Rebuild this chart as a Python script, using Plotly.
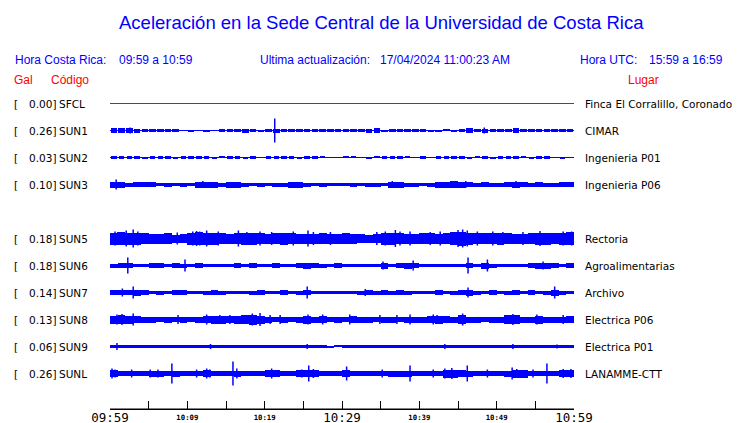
import plotly.graph_objects as go

# ---------------- data ----------------
title = "Aceleración en la Sede Central de la Universidad de Costa Rica"
hora_cr = "09:59 a 10:59"
actualizacion = "17/04/2024 11:00:23 AM"
hora_utc = "15:59 a 16:59"

codes = ["SFCL", "SUN1", "SUN2", "SUN3", "SUN4", "SUN5", "SUN6", "SUN7", "SUN8", "SUN9", "SUNL"]
gal = [0.00, 0.26, 0.03, 0.10, None, 0.18, 0.18, 0.14, 0.13, 0.06, 0.26]
places = ["Finca El Corralillo, Coronado", "CIMAR", "Ingenieria P01", "Ingenieria P06", None,
          "Rectoria", "Agroalimentarias", "Archivo", "Electrica P06", "Electrica P01", "LANAMME-CTT"]

tick_minutes = [0, 5, 10, 15, 20, 25, 30, 35, 40, 45, 50, 55, 60]
tick_labels = ["09:59", "", "10:09", "", "10:19", "", "10:29", "", "10:39", "", "10:49", "", "10:59"]
major_labels = ["09:59", "10:29", "10:59"]

# envelope half-heights (pixels) per 1-minute bin
env_sfcl = [0.0]
env_sun1 = [2.2, 2.2, 2.2, 2.0, 1.2, 1.5, 1.8, 1.8, 1.8, 0.5,
            1.0, 0.5, 1.0, 0.5, 1.2, 1.8, 1.8, 2.0, 1.8, 1.0,
            1.8, 2.0, 1.8, 1.8, 1.8, 1.8, 1.8, 1.8, 1.8, 1.5,
            1.8, 1.8, 1.8, 2.0, 2.2, 1.0, 1.8, 1.8, 1.8, 1.8,
            1.8, 1.0, 1.0, 0.8, 1.0, 1.8, 2.2, 1.2, 2.0, 1.8,
            1.8, 1.8, 2.2, 1.2, 1.8, 1.8, 1.8, 1.8, 1.8, 1.8]
env_sun2 = [1.5, 1.5, 1.3, 1.3, 1.0, 1.2, 1.5, 1.5, 1.0, 1.2,
            1.5, 1.2, 1.2, 1.0, 0.8, 1.2, 1.5, 1.0, 1.2, 0.5,
            1.3, 1.3, 1.2, 1.3, 1.0, 1.3, 1.3, 0.8, 0.5, 0.5,
            0.8, 0.8, 0.5, 1.0, 0.8, 1.3, 1.3, 1.2, 0.8, 0.5,
            1.2, 0.5, 1.3, 1.3, 1.3, 1.3, 1.0, 0.8, 1.2, 1.0,
            1.2, 1.3, 1.3, 0.8, 1.0, 1.2, 1.2, 0.5, 1.0, 0.5]
env_sun3 = [3.0, 3.0, 2.0, 2.5, 2.5, 2.5, 1.8, 2.0, 1.8, 2.0,
            1.8, 3.0, 3.0, 3.0, 2.0, 3.0, 3.0, 2.0, 1.8, 2.0,
            1.8, 2.0, 2.0, 3.0, 3.0, 2.0, 1.8, 2.0, 1.8, 1.8,
            1.8, 2.0, 1.8, 2.0, 2.0, 1.8, 3.0, 3.0, 2.0, 2.0,
            1.8, 2.0, 3.0, 3.0, 3.2, 3.0, 2.5, 2.0, 2.2, 2.0,
            2.0, 2.2, 3.0, 2.8, 2.0, 2.2, 2.0, 2.0, 2.2, 2.2]
env_sun5 = [6.0, 6.5, 6.0, 6.0, 5.5, 5.0, 5.0, 5.5, 4.0, 4.5,
            6.0, 6.5, 6.0, 6.0, 5.5, 5.0, 5.5, 6.0, 6.0, 5.5,
            5.0, 5.5, 6.0, 5.5, 5.0, 5.0, 5.0, 5.5, 5.0, 5.0,
            5.5, 5.0, 4.5, 4.0, 4.5, 6.0, 6.0, 5.5, 5.0, 5.0,
            5.5, 5.5, 5.0, 5.5, 6.5, 7.0, 6.0, 5.5, 5.5, 5.5,
            6.0, 5.5, 5.0, 5.0, 5.5, 6.0, 6.0, 5.5, 6.0, 6.5]
env_sun6 = [2.0, 2.5, 2.5, 1.8, 1.8, 2.5, 2.2, 1.8, 2.5, 2.0,
            1.8, 2.5, 1.8, 1.8, 1.8, 1.8, 2.5, 1.8, 2.5, 1.8,
            1.8, 2.5, 1.8, 1.8, 2.5, 3.0, 2.5, 2.0, 1.8, 2.5,
            1.8, 1.8, 1.8, 1.8, 1.8, 3.0, 1.8, 2.5, 3.0, 2.5,
            1.8, 1.8, 1.8, 1.8, 1.8, 1.8, 2.5, 1.8, 3.0, 2.0,
            1.8, 1.8, 1.8, 1.8, 2.5, 3.0, 3.0, 2.5, 1.8, 2.5]
env_sun7 = [2.2, 2.8, 2.2, 3.0, 2.5, 1.8, 2.0, 1.8, 2.5, 2.5,
            1.8, 1.8, 2.0, 2.5, 2.0, 1.8, 1.8, 1.8, 2.0, 2.5,
            1.8, 1.8, 2.5, 1.8, 2.0, 2.8, 1.8, 1.8, 1.8, 1.8,
            1.8, 1.8, 2.0, 2.5, 2.0, 2.5, 2.0, 2.5, 2.0, 1.8,
            1.8, 1.8, 2.5, 1.8, 2.0, 2.2, 3.0, 2.0, 1.8, 2.5,
            1.8, 2.0, 2.5, 1.8, 2.5, 1.8, 2.0, 3.0, 2.0, 1.8]
env_sun8 = [4.0, 4.5, 4.0, 3.5, 3.0, 3.0, 2.8, 3.0, 2.8, 3.0,
            2.8, 3.0, 3.5, 4.0, 4.0, 3.5, 4.0, 4.5, 5.0, 4.0,
            3.0, 2.8, 3.0, 2.8, 3.0, 4.0, 3.0, 3.5, 2.8, 3.0,
            2.8, 3.5, 3.0, 3.0, 2.8, 3.0, 3.0, 2.8, 3.0, 3.0,
            3.0, 3.5, 4.0, 3.5, 3.0, 4.5, 3.0, 3.0, 2.8, 3.0,
            3.0, 4.5, 4.5, 3.0, 3.0, 4.0, 3.0, 3.0, 3.0, 3.5]
env_sun9 = [1.8, 1.5, 1.5, 1.5, 1.5, 1.5, 1.5, 1.5, 1.5, 1.5,
            1.5, 1.5, 1.5, 1.8, 1.5, 1.5, 1.5, 1.5, 1.5, 1.5,
            1.5, 1.5, 1.5, 1.5, 1.5, 1.8, 1.5, 1.5, 1.0, 0.8,
            1.5, 1.5, 1.5, 1.5, 1.5, 1.5, 1.5, 1.5, 1.5, 1.5,
            1.5, 1.5, 1.5, 1.8, 1.5, 1.8, 1.5, 1.5, 1.5, 1.5,
            1.5, 1.5, 1.8, 1.5, 1.5, 1.5, 1.5, 1.8, 1.5, 1.5]
env_sunl = [3.5, 2.8, 2.5, 2.2, 2.5, 3.0, 3.0, 2.5, 3.0, 2.5,
            2.2, 2.5, 3.5, 2.5, 2.2, 2.5, 3.0, 2.5, 2.2, 2.5,
            3.5, 3.5, 2.5, 2.2, 3.5, 3.5, 3.5, 2.5, 2.2, 2.5,
            3.5, 2.5, 2.2, 2.5, 2.5, 2.5, 3.0, 3.0, 3.0, 2.5,
            2.5, 2.5, 2.2, 4.0, 4.0, 3.5, 3.0, 2.5, 2.5, 2.2,
            2.5, 3.0, 4.0, 4.0, 2.5, 2.2, 2.5, 2.5, 3.5, 3.5]

# isolated peaks: minute, half-height (pixels)
spk_t_sun1 = [2.6, 21.3, 48.4]
spk_a_sun1 = [3, 12, 3]
spk_t_sun2 = []
spk_a_sun2 = []
spk_t_sun3 = [0.8, 12.0, 36.5, 46.0, 52.5]
spk_a_sun3 = [5, 3.5, 3.5, 3.5, 3.5]
spk_t_sun5 = [0.65, 1.0, 2.1, 3.0, 3.6, 8.7, 10.7, 11.2, 11.6, 12.5, 14.0, 16.6, 17.7, 19.4,
              20.9, 23.7, 25.6, 26.3, 28.5, 34.5, 35.6, 36.9, 37.5, 38.8, 41.4, 42.7, 45.0,
              45.6, 46.2, 47.5, 49.5, 50.8, 53.4, 55.6, 58.6, 59.7]
spk_a_sun5 = [7, 6.5, 8, 9, 7, 6, 7, 7.5, 7, 8, 7, 8, 6.5, 7,
              6.5, 7, 8, 6.5, 6.5, 6.5, 7, 8.5, 7, 7, 6.5, 7, 8.5,
              9, 8, 7, 7, 6.5, 6.5, 7.5, 7, 7]
spk_t_sun6 = [2.3, 9.7, 35.3, 39.2, 46.3, 48.8, 56.0]
spk_a_sun6 = [8, 6, 4, 5, 8, 6, 4]
spk_t_sun7 = [1.6, 3.0, 25.5, 33.0, 46.3, 57.5]
spk_a_sun7 = [4, 6, 6, 3.5, 5, 6]
spk_t_sun8 = [0.9, 1.55, 3.0, 8.8, 12.5, 14.2, 15.5, 18.4, 19.4, 20.7, 22.0, 25.6, 27.5,
              31.0, 34.9, 37.1, 38.8, 41.8, 42.3, 45.6, 52.1, 55.2, 58.6]
spk_a_sun8 = [5, 5.5, 6, 4.5, 5, 4.5, 4.5, 6, 6.5, 4.5, 4.5, 5, 5,
              5, 4.5, 4.5, 5, 5, 4.5, 6, 5.5, 5, 4.5]
spk_t_sun9 = [0.9, 13.0, 25.5, 43.3, 52.1, 57.8]
spk_a_sun9 = [3.5, 2.5, 2.5, 2.5, 2.5, 2]
spk_t_sunl = [0.26, 0.65, 2.8, 5.2, 6.2, 8.0, 11.2, 12.5, 12.9, 15.9, 16.4, 20.9, 24.8, 25.7,
              26.3, 30.6, 35.2, 38.8, 41.8, 43.3, 44.2, 46.2, 48.8, 52.0, 52.6, 54.7, 56.5,
              58.6, 59.6]
spk_a_sunl = [5, 4, 4, 4, 4, 10, 4, 5, 4, 12, 5, 5, 4, 8,
              4.5, 7, 4, 8, 4, 5, 5.5, 8, 4, 6, 4.5, 4, 10,
              4.5, 4.5]

# ---------------- assembly ----------------
envs = {"SFCL": env_sfcl, "SUN1": env_sun1, "SUN2": env_sun2, "SUN3": env_sun3,
        "SUN5": env_sun5, "SUN6": env_sun6, "SUN7": env_sun7, "SUN8": env_sun8,
        "SUN9": env_sun9, "SUNL": env_sunl}
spikes = {"SUN1": (spk_t_sun1, spk_a_sun1), "SUN2": (spk_t_sun2, spk_a_sun2),
          "SUN3": (spk_t_sun3, spk_a_sun3), "SUN5": (spk_t_sun5, spk_a_sun5),
          "SUN6": (spk_t_sun6, spk_a_sun6), "SUN7": (spk_t_sun7, spk_a_sun7),
          "SUN8": (spk_t_sun8, spk_a_sun8), "SUN9": (spk_t_sun9, spk_a_sun9),
          "SUNL": (spk_t_sunl, spk_a_sunl)}

W, H = 740, 423
PAGE = 8  # default page margin around the figure div
# plot area in window pixels
L_WIN, R_WIN, T_WIN, B_WIN = 110, 574.5, 90, 409
L, R, T, B = L_WIN - PAGE, R_WIN - PAGE, T_WIN - PAGE, B_WIN - PAGE
ROW_PX = 27.0
FIRST_ROW_WIN = 103.5
y_top = -(FIRST_ROW_WIN - T_WIN) / ROW_PX
y_bot = (B_WIN - FIRST_ROW_WIN) / ROW_PX
BLUE = "#0000ff"

def xp(px):  # window pixel -> paper x
    return (px - L_WIN) / (R_WIN - L_WIN)

def yp(py):  # window pixel -> paper y
    return (B_WIN - py) / (B_WIN - T_WIN)

t0, t1 = tick_minutes[0], tick_minutes[-1]
fig = go.Figure()
annotations = []
lab_font = dict(family="DejaVu Sans", size=10.5, color="black")

for i, code in enumerate(codes):
    env = envs.get(code)
    if env is None:
        continue
    if code == "SFCL":
        fig.add_trace(go.Scatter(x=[t0, t1], y=[i, i], mode="lines",
                                 line=dict(color="red", width=1), hoverinfo="skip"))
    else:
        fig.add_trace(go.Scatter(x=[t0, t1], y=[i, i], mode="lines",
                                 line=dict(color=BLUE, width=1), hoverinfo="skip"))
        bw = {"SUN1": 0.85, "SUN2": 0.7}.get(code, 1.0)
        fig.add_trace(go.Bar(x=[m + 0.5 for m in range(len(env))],
                             y=[2 * a / ROW_PX for a in env],
                             base=[i - a / ROW_PX for a in env],
                             width=bw, marker=dict(color=BLUE, line=dict(width=0)),
                             hoverinfo="skip"))
        st, sa = spikes[code]
        xs, ys = [], []
        for t, a in zip(st, sa):
            xs += [t, t, None]
            ys += [i - a / ROW_PX, i + a / ROW_PX, None]
        if xs:
            fig.add_trace(go.Scatter(x=xs, y=ys, mode="lines",
                                     line=dict(color=BLUE, width=1.5), hoverinfo="skip"))
    annotations.append(dict(x=xp(12), y=i, xref="paper", yref="y", text="[",
                            xanchor="left", yanchor="middle", showarrow=False, font=lab_font))
    annotations.append(dict(x=xp(58), y=i, xref="paper", yref="y", text=f"{gal[i]:.2f}]",
                            xanchor="right", yanchor="middle", showarrow=False, font=lab_font))
    annotations.append(dict(x=xp(57), y=i, xref="paper", yref="y", text=code,
                            xanchor="left", yanchor="middle", showarrow=False, font=lab_font))
    annotations.append(dict(x=xp(584), y=i, xref="paper", yref="y", text=places[i],
                            xanchor="left", yanchor="middle", showarrow=False, font=lab_font))

hfont = dict(family="Liberation Sans", size=12, color=BLUE)
rfont = dict(family="Liberation Sans", size=12, color="red")
def head(px, py, text, font, anchor="left"):
    annotations.append(dict(x=xp(px), y=yp(py), xref="paper", yref="paper", text=text,
                            xanchor=anchor, yanchor="middle", showarrow=False, font=font))

head(382, 22, title, dict(family="Liberation Sans", size=18.5, color=BLUE), "center")
head(13, 60, "Hora Costa Rica:", hfont)
head(117, 60, hora_cr, hfont)
head(258, 60, "Ultima actualización:", hfont)
head(378, 60, actualizacion, hfont)
head(579, 60, "Hora UTC:", hfont)
head(648, 60, hora_utc, hfont)
head(12, 80, "Gal", rfont)
head(49, 80, "Código", rfont)
head(627, 80, "Lugar", rfont)

ticktext = []
for lab in tick_labels:
    if lab == "" or lab in major_labels:
        ticktext.append(lab)
    else:
        ticktext.append('<span style="font-size:7.3px;font-weight:bold;baseline-shift:2px">'
                        + lab + '</span>')

fig.update_layout(
    width=W, height=H,
    margin=dict(l=L, r=W - R, t=T, b=H - B, pad=0, autoexpand=False),
    paper_bgcolor="white", plot_bgcolor="white",
    showlegend=False, barmode="overlay", bargap=0,
    annotations=annotations,
    shapes=[dict(type="line", xref="x", yref="paper", x0=t0, x1=t1, y0=0, y1=0,
                 line=dict(color="black", width=1))],
    xaxis=dict(range=[t0, t1], tickmode="array", tickvals=tick_minutes, ticktext=ticktext,
               ticks="inside", ticklen=8, tickwidth=1, tickcolor="black",
               showline=True, linecolor="black", linewidth=1, showgrid=False, zeroline=False,
               tickfont=dict(family="DejaVu Sans Mono", size=12.5, color="black"),
               ticklabelstandoff=-3,
               automargin=False, fixedrange=True, layer="above traces"),
    yaxis=dict(range=[y_bot, y_top], visible=False, showgrid=False, zeroline=False,
               automargin=False, fixedrange=True),
)

fig.write_html("out.html")
